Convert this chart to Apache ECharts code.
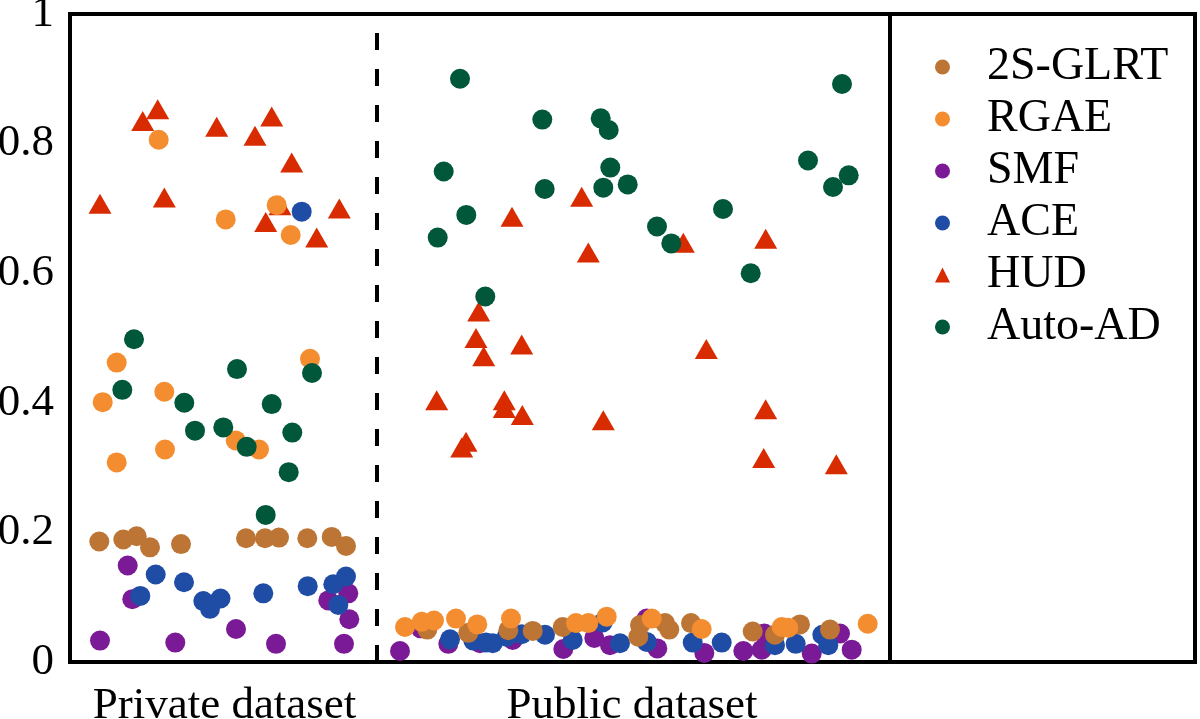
<!DOCTYPE html>
<html>
<head>
<meta charset="utf-8">
<script src="https://cdn.jsdelivr.net/npm/echarts@6/dist/echarts.min.js"></script>
<style>
html,body{margin:0;padding:0;background:#fff;}
#chart{width:1200px;height:719px;}
</style>
</head>
<body>
<div id="chart"></div>
<script>
// ---- data: [sample position, score] ----
const seriesNames = ['2S-GLRT', 'RGAE', 'SMF', 'ACE', 'HUD', 'Auto-AD'];
const yTicks = [0, 0.2, 0.4, 0.6, 0.8, 1];
const xLabelPos = [15.45, 56.2];
const xLabelText = ['Private dataset', 'Public dataset'];
const privatePublicSplit = 30.7;
const legendSplit = 82;

const glrt = [
  [2.93,0.186],[5.33,0.189],[6.67,0.194],[8.0,0.177],[11.1,0.182],[17.6,0.191],[19.5,0.191],[20.9,0.192],[23.73,0.191],[26.17,0.193],[27.6,0.179],
  [35.73,0.050],[39.83,0.045],[43.83,0.049],[46.27,0.048],[49.27,0.054],[56.83,0.039],[57.0,0.057],[59.5,0.060],[59.93,0.050],[62.1,0.060],[68.27,0.047],[70.5,0.042],[73.0,0.058],[76.0,0.050]
];
const rgae = [
  [8.87,0.806],[15.57,0.683],[20.67,0.705],[22.07,0.659],[4.67,0.462],[24.0,0.468],[3.27,0.401],[9.43,0.417],[9.5,0.328],[4.67,0.308],[16.57,0.342],[18.9,0.328],
  [33.5,0.054],[35.17,0.062],[36.4,0.064],[38.6,0.067],[40.73,0.058],[44.1,0.067],[50.6,0.060],[51.83,0.060],[53.67,0.070],[58.17,0.067],[63.17,0.051],[71.17,0.054],[71.83,0.053],[79.77,0.059]
];
const smf = [
  [5.77,0.149],[6.23,0.097],[3.0,0.033],[10.53,0.030],[16.6,0.051],[20.6,0.028],[27.4,0.028],[25.83,0.095],[27.83,0.106],[27.93,0.066],
  [33.0,0.017],[35.07,0.052],[37.83,0.028],[41.0,0.029],[44.27,0.034],[49.33,0.020],[52.43,0.037],[54.0,0.026],[57.67,0.067],[58.73,0.021],[63.43,0.014],[67.33,0.017],[69.17,0.019],[69.43,0.044],[74.17,0.013],[77.0,0.044],[78.17,0.019]
];
const ace = [
  [8.57,0.135],[7.03,0.102],[11.4,0.123],[13.33,0.094],[14.0,0.082],[15.05,0.098],[19.33,0.106],[23.77,0.117],[26.33,0.120],[27.6,0.132],[26.83,0.088],[23.17,0.695],
  [38.0,0.035],[40.33,0.033],[41.6,0.030],[42.27,0.029],[43.67,0.039],[45.17,0.043],[47.5,0.042],[50.27,0.034],[53.27,0.061],[55.0,0.029],[57.67,0.031],[62.27,0.030],[65.17,0.030],[70.5,0.026],[72.57,0.028],[75.23,0.042],[75.83,0.026]
];
const hud = [
  [8.77,0.853],[7.27,0.835],[14.67,0.826],[20.17,0.842],[18.5,0.812],[22.17,0.771],[3.0,0.707],[9.43,0.717],[21.0,0.705],[19.57,0.679],[26.93,0.700],[24.67,0.655],
  [51.17,0.718],[44.2,0.687],[51.83,0.632],[40.87,0.541],[40.6,0.500],[45.17,0.490],[41.37,0.472],[36.67,0.404],[43.43,0.404],[43.43,0.392],[45.23,0.381],[53.33,0.373],[39.6,0.340],[39.17,0.331],[61.33,0.647],[69.57,0.653],[63.63,0.483],[69.57,0.390],[69.37,0.315],[76.63,0.305]
];
const autoad = [
  [6.4,0.498],[5.23,0.420],[16.7,0.452],[24.2,0.446],[11.43,0.400],[20.17,0.398],[12.5,0.357],[15.33,0.362],[17.67,0.332],[22.23,0.354],[21.87,0.293],[19.57,0.227],
  [39.0,0.900],[47.23,0.837],[53.07,0.839],[53.87,0.821],[37.37,0.757],[54.03,0.763],[47.47,0.730],[53.33,0.732],[55.77,0.737],[39.63,0.690],[36.77,0.655],[41.53,0.564],[77.2,0.892],[73.8,0.774],[77.87,0.751],[76.3,0.733],[65.3,0.699],[58.7,0.672],[60.13,0.646],[68.07,0.600]
];

const colors = {
  '2S-GLRT': '#BD7535',
  'RGAE': '#F38D30',
  'SMF': '#7B1A96',
  'ACE': '#1F4DA6',
  'HUD': '#D92B00',
  'Auto-AD': '#00573A'
};

const FONT = 'Liberation Serif';

function sc(name, data, symbol, size, z) {
  return {
    name: name, type: 'scatter', data: data, symbol: symbol, symbolSize: size, z: z,
    itemStyle: { color: colors[name], opacity: 1 },
    emphasis: { disabled: true }
  };
}

const series = [
  sc('HUD', hud, 'triangle', [23, 20], 2),
  sc('SMF', smf, 'circle', 20, 3),
  sc('ACE', ace, 'circle', 20, 4),
  sc('2S-GLRT', glrt, 'circle', 20, 5),
  sc('RGAE', rgae, 'circle', 20, 6),
  sc('Auto-AD', autoad, 'circle', 20, 7)
];
series[0].markLine = {
  silent: true, symbol: 'none', label: { show: false }, animation: false,
  data: [
    { xAxis: privatePublicSplit, lineStyle: { type: [17, 19], color: '#000', width: 4 } },
    { xAxis: legendSplit, lineStyle: { type: 'solid', color: '#000', width: 4 } }
  ]
};

const chart = echarts.init(document.getElementById('chart'), null, { renderer: 'canvas' });
chart.setOption({
  animation: false,
  backgroundColor: '#fff',
  grid: {
    left: 70, right: 5, top: 14, bottom: 57, show: true, borderColor: '#000', borderWidth: 4,
    containLabel: false, outerBoundsMode: 'none'
  },
  xAxis: {
    type: 'value', min: 0, max: 112.5,
    axisLine: { show: false }, axisTick: { show: false }, splitLine: { show: false },
    axisLabel: {
      customValues: xLabelPos,
      formatter: function (v) {
        for (let i = 0; i < xLabelPos.length; i++) if (Math.abs(v - xLabelPos[i]) < 1e-6) return xLabelText[i];
        return '';
      },
      color: '#000', fontFamily: FONT, fontSize: 45, lineHeight: 45, margin: 22
    }
  },
  yAxis: {
    type: 'value', min: 0, max: 1, interval: 0.2,
    axisLine: { show: false }, axisTick: { show: false }, splitLine: { show: false },
    axisLabel: {
      customValues: yTicks,
      color: '#000', fontFamily: FONT, fontSize: 45, margin: 16, padding: [8, 0, 0, 0]
    }
  },
  legend: {
    data: seriesNames,
    orient: 'vertical', left: 930, top: 39,
    itemWidth: 15, itemHeight: 15, itemGap: 6,
    selectedMode: false,
    textStyle: { color: '#000', fontFamily: FONT, fontSize: 46, lineHeight: 46, padding: [0, 0, 0, 32] }
  },
  series: series
});
</script>
</body>
</html>
